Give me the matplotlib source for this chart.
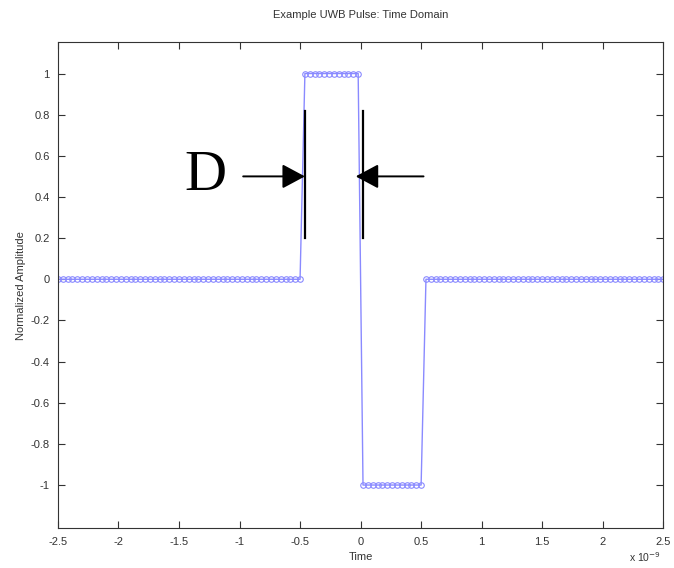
import matplotlib
matplotlib.use("Agg")
import matplotlib.pyplot as plt
import numpy as np

# time axis in units of 1e-9 s, sample step
time_start = -2.5
time_step = 0.04
n_zero_before = 51
n_high = 12
n_low = 13
n_zero_after = 50

amplitude = [0.0] * n_zero_before + [1.0] * n_high + [-1.0] * n_low + [0.0] * n_zero_after
time = time_start + time_step * np.arange(len(amplitude))

x_ticks = [-2.5, -2, -1.5, -1, -0.5, 0, 0.5, 1, 1.5, 2, 2.5]
x_tick_labels = ["-2.5", "-2", "-1.5", "-1", "-0.5", "0", "0.5", "1", "1.5", "2", "2.5"]
y_ticks = [-1, -0.8, -0.6, -0.4, -0.2, 0, 0.2, 0.4, 0.6, 0.8, 1]
y_tick_labels = ["-1", "-0.8", "-0.6", "-0.4", "-0.2", "0", "0.2", "0.4", "0.6", "0.8", "1"]

# pulse width marker "D"
marker_left = -0.46
marker_right = 0.02
marker_bottom = 0.2
marker_top = 0.82
arrow_y = 0.5

LINE_COLOR = "#8a8aff"
TEXT_COLOR = "#333333"

plt.rcParams["font.family"] = ["Liberation Sans", "DejaVu Sans"]

fig = plt.figure(figsize=(6.74, 5.68), dpi=100)
ax = fig.add_axes([0.086, 0.070, 0.898, 0.856])

ax.plot(time, amplitude, color=LINE_COLOR, linewidth=1.0, marker="o",
        markersize=4, markerfacecolor="none", markeredgecolor=LINE_COLOR,
        markeredgewidth=0.8)

# vertical marker bars
ax.plot([marker_left, marker_left], [marker_bottom, marker_top], color="black", linewidth=1.6)
ax.plot([marker_right, marker_right], [marker_bottom, marker_top], color="black", linewidth=1.6)

arrow_props = dict(arrowstyle="-|>,head_length=1.4,head_width=0.75", color="black",
                   linewidth=1.4, shrinkA=0, shrinkB=0)
ax.annotate("", xy=(marker_left, arrow_y), xytext=(-0.97, arrow_y), arrowprops=arrow_props)
ax.annotate("", xy=(-0.04, arrow_y), xytext=(0.52, arrow_y), arrowprops=arrow_props)
ax.text(-1.28, arrow_y, "D", fontsize=42, family=["Liberation Serif", "DejaVu Serif"],
        ha="center", va="center", color="black")

ax.set_xlim(-2.5, 2.5)
ax.set_ylim(-1.21, 1.153)
ax.set_xticks(x_ticks)
ax.set_xticklabels(x_tick_labels)
ax.set_yticks(y_ticks)
ax.set_yticklabels(y_tick_labels)
ax.tick_params(direction="in", length=5, width=0.8, top=True, right=True,
               labelsize=8, colors=TEXT_COLOR, pad=6)
for spine in ax.spines.values():
    spine.set_color(TEXT_COLOR)
    spine.set_linewidth(0.8)

ax.set_title("Example UWB Pulse: Time Domain", fontsize=8, color=TEXT_COLOR, pad=17)
ax.set_xlabel("Time", fontsize=8, color=TEXT_COLOR, labelpad=4)
ax.set_ylabel("Normalized Amplitude", fontsize=8, color=TEXT_COLOR, labelpad=3)
fig.text(0.957, 0.011, "x 10$^{-9}$", fontsize=7.5, color=TEXT_COLOR, ha="center")

fig.savefig("out.png", dpi=100)
